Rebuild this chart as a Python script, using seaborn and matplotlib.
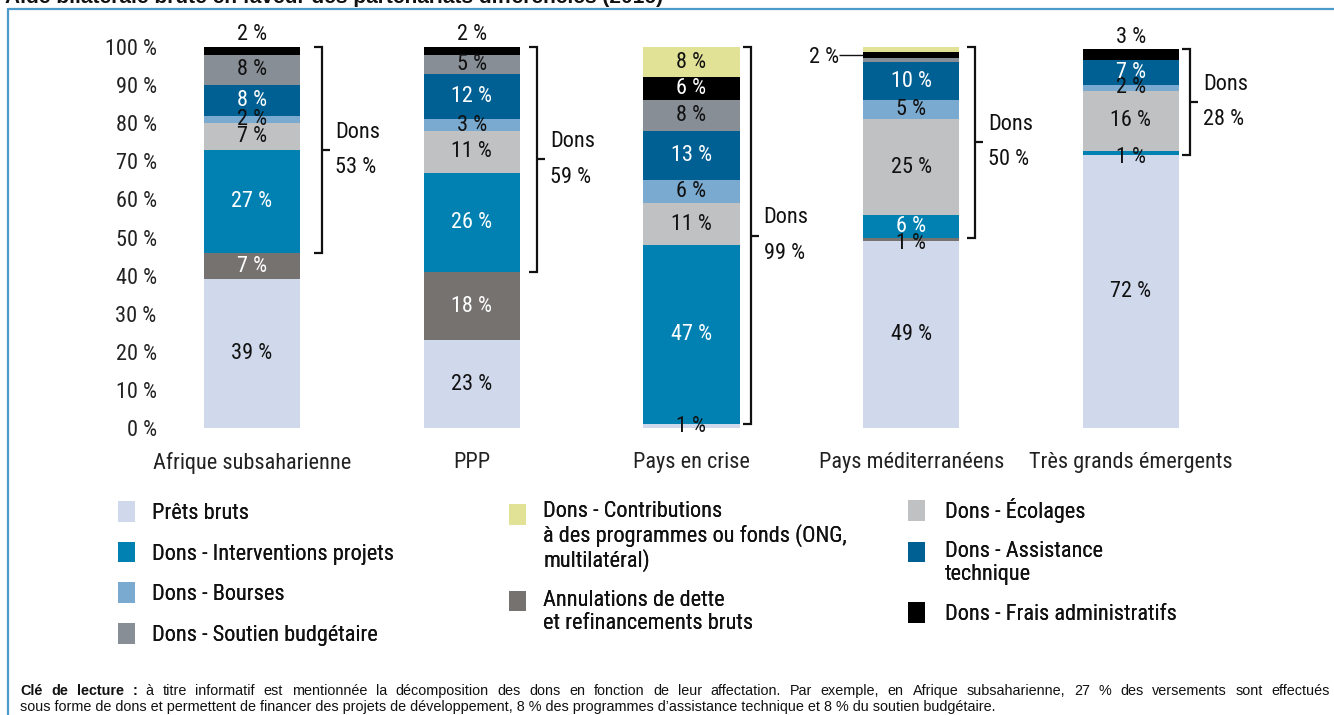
import matplotlib
matplotlib.use("Agg")
import matplotlib.pyplot as plt
import seaborn as sns
import numpy as np
import pandas as pd
from matplotlib.patches import Patch, Rectangle
from matplotlib.lines import Line2D
from matplotlib.legend_handler import HandlerPatch

# ---------------- data ----------------
categories = ["Afrique subsaharienne", "PPP", "Pays en crise",
              "Pays méditerranéens", "Très grands émergents"]
prets = [39, 23, 1, 49, 71.7]
annulations = [7, 18, 0, 1, 0]
projets = [27, 26, 47, 6, 1.0]
ecolages = [7, 11, 11, 25, 15.8]
bourses = [2, 3, 6, 5, 1.5]
assistance = [8, 12, 13, 10, 6.6]
soutien = [8, 5, 8, 1.2, 0]
frais = [2, 2, 6, 1.6, 2.8]
contributions = [0, 0, 8, 1.2, 0]
dons_totaux = [53, 59, 99, 50, 28]
yticks = list(range(0, 101, 10))
ytick_labels = [f"{t} %" for t in yticks]

series_names = [
    "Prêts bruts",
    "Annulations de dette\net refinancements bruts",
    "Dons - Interventions projets",
    "Dons - Écolages",
    "Dons - Bourses",
    "Dons - Assistance\ntechnique",
    "Dons - Soutien budgétaire",
    "Dons - Frais administratifs",
    "Dons - Contributions\nà des programmes ou fonds (ONG,\nmultilatéral)",
]
series_vals = [prets, annulations, projets, ecolages, bourses, assistance,
               soutien, frais, contributions]
colors = ["#d0d9ec", "#75726f", "#0081b1", "#c0c1c3", "#7aaad0",
          "#006093", "#878e96", "#000000", "#e1e296"]
dark = [False, True, True, False, False, True, False, True, False]

# ---------------- style ----------------
sns.set_style("white")
plt.rcParams["font.family"] = ["Roboto Condensed", "Liberation Sans", "DejaVu Sans"]
plt.rcParams["text.color"] = "#111111"
FS = 16

W, H = 1334, 715
fig = plt.figure(figsize=(W / 100, H / 100), dpi=100)

L, R = 165, 1250
Y0, YT = 428, 27
ppu_y = 3.81
ax = fig.add_axes([L / W, 1 - Y0 / H, (R - L) / W, (Y0 - YT) / H])

vals = np.array(series_vals, dtype=float)
cum = np.cumsum(vals, axis=0)

for i in range(len(series_vals) - 1, -1, -1):
    df = pd.DataFrame({"cat": categories, "v": cum[i]})
    sns.barplot(data=df, x="cat", y="v", order=categories, color=colors[i],
                saturation=1, width=0.437, linewidth=0, ax=ax)

spacing = 219.75
ax.set_xlim(-(252 - L) / spacing, 4 + (R - 1131) / spacing)
ax.set_ylim(0, (Y0 - YT) / ppu_y)
for s in ax.spines.values():
    s.set_visible(False)
ax.set_yticks(yticks)
ax.set_yticklabels(ytick_labels)
ax.tick_params(axis="both", length=0, labelsize=FS, colors="#222222")
ax.tick_params(axis="y", pad=6)
ax.tick_params(axis="x", pad=17)
ax.set_xlabel("")
ax.set_ylabel("")

px = 1.0 / spacing  # data units per pixel (x)
half_w = 0.437 / 2

# ---------------- value labels ----------------
for j in range(len(categories)):
    last_nonzero = max(i for i in range(len(series_vals)) if vals[i, j] > 0)
    for i in range(len(series_vals)):
        v = vals[i, j]
        if v <= 0:
            continue
        bottom = cum[i, j] - v
        txt = f"{v:.0f} %"
        if i >= 4 and v < 1.5:
            continue
        if i == 7 and v <= 3 and i == last_nonzero:
            ax.text(j, cum[i, j] + 0.4, txt, ha="center", va="bottom",
                    fontsize=FS)
            continue
        if i == 7 and v < 2:
            yc = bottom + v / 2
            x_left = j - half_w
            ax.plot([x_left - 24 * px, x_left], [yc, yc], color="#111111",
                    lw=1.0, solid_capstyle="butt")
            ax.text(x_left - 24 * px, yc - 0.8, txt, ha="right", va="center",
                    fontsize=FS)
            continue
        col = "white" if (dark[i] and v >= 3) else "#111111"
        dy = -1.2 if (i in (1, 2) and v < 2) else 0
        ax.text(j, bottom + v / 2 + dy, txt, ha="center", va="center",
                fontsize=FS, color=col)

# ---------------- brackets ----------------
bracket_off_px = [22, 17, 11, 16, 11]
tick_px = 8
for j in range(len(categories)):
    xb = j + half_w + bracket_off_px[j] * px
    y_lo = prets[j] + annulations[j]
    y_hi = cum[-1, j]
    ax.plot([xb - tick_px * px, xb, xb, xb - tick_px * px],
            [y_hi, y_hi, y_lo, y_lo], color="#111111", lw=1.6,
            solid_joinstyle="miter", solid_capstyle="butt")
    ym = (y_lo + y_hi) / 2
    ax.plot([xb, xb + tick_px * px], [ym, ym], color="#111111", lw=1.6,
            solid_capstyle="butt")
    ax.text(xb + 13 * px, ym, f"Dons\n{dons_totaux[j]} %", ha="left",
            va="center", fontsize=FS, linespacing=1.9)

# ---------------- legend ----------------
LS = 1.12


def make_handler(nlines):
    shift = (nlines - 1) / 2 * FS * 1.02

    def f(legend, orig_handle, xdescent, ydescent, width, height, fontsize):
        return Rectangle((-xdescent, -ydescent + shift), width, height)
    return HandlerPatch(patch_func=f)


handles = [Patch(facecolor=c, edgecolor="none") for c in colors]
cols = [[0, 2, 4, 6], [8, 1], [3, 5, 7]]
anchors = [(118, 501), (509, 501), (908, 498)]
for idx, (col, (axx, ayy)) in enumerate(zip(cols, anchors)):
    hmap = {handles[k]: make_handler(series_names[k].count("\n") + 1) for k in col}
    leg = fig.legend([handles[k] for k in col], [series_names[k] for k in col],
                     loc="upper left", bbox_to_anchor=(axx / W, 1 - ayy / H),
                     frameon=False, fontsize=FS, borderpad=0, borderaxespad=0,
                     handlelength=0.77, handleheight=1.05,
                     handletextpad=0.77 if idx < 2 else 0.9,
                     labelspacing=0.8, handler_map=hmap)
    for t in leg.get_texts():
        t.set_linespacing(LS)
    fig.add_artist(leg)

# ---------------- frame, title, note ----------------
frame_col = "#4b9ac7"
fig.add_artist(Line2D([8 / W, 8 / W], [0, 1 - 9 / H], transform=fig.transFigure,
                      color=frame_col, lw=1.6))
fig.add_artist(Line2D([8 / W, 1], [1 - 9 / H, 1 - 9 / H], transform=fig.transFigure,
                      color=frame_col, lw=1.6))
fig.text(5 / W, 1 - 3 / H,
         "Aide bilatérale brute en faveur des partenariats différenciés (2016)",
         ha="left", va="baseline", fontsize=15, fontweight="bold",
         family=["Liberation Sans", "DejaVu Sans"])

note_font = ["Liberation Sans", "DejaVu Sans"]
NFS = 10.4
renderer = fig.canvas.get_renderer()
bold_words = ["Clé", "de", "lecture", ":"]
line1 = ("à titre informatif est mentionnée la décomposition des dons en fonction "
         "de leur affectation. Par exemple, en Afrique subsaharienne, 27 % des "
         "versements sont effectués").split(" ")
words = [(w, "bold") for w in bold_words] + [(w, "normal") for w in line1]
widths = []
for w, wt in words:
    t = fig.text(0, 0, w, fontsize=NFS, fontweight=wt, family=note_font)
    widths.append(t.get_window_extent(renderer).width)
    t.remove()
x_start, x_end = 20, 1330
gap = (x_end - x_start - sum(widths)) / (len(words) - 1)
xcur = x_start
for (w, wt), wd in zip(words, widths):
    fig.text(xcur / W, 1 - 695 / H, w, ha="left", va="baseline", fontsize=NFS,
             fontweight=wt, family=note_font)
    xcur += wd + gap
fig.text(20 / W, 1 - 711 / H,
         "sous forme de dons et permettent de financer des projets de développement, "
         "8 % des programmes d’assistance technique et 8 % du soutien budgétaire.",
         ha="left", va="baseline", fontsize=NFS, family=note_font)

fig.savefig("out.png", dpi=100)
